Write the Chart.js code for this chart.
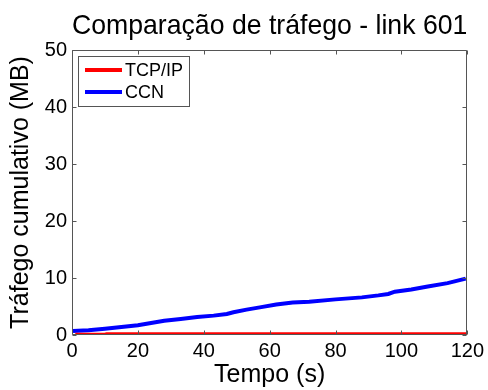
<!DOCTYPE html>
<html>
<head>
<meta charset="utf-8">
<script src="https://cdn.jsdelivr.net/npm/chart.js@4/dist/chart.umd.min.js"></script>
<style>
  html, body { margin: 0; padding: 0; background: #fff; }
  #wrap { width: 488px; height: 390px; }
</style>
</head>
<body>
<div id="wrap"><canvas id="c"></canvas></div>
<script>
// Cumulative traffic on link 601 (MB) against time (s)
const tcpTime    = [1, 10, 10.5, 120];
const tcpTraffic = [0.05, 0.05, 0.12, 0.12];

const ccnTime    = [0.3, 5, 10, 15, 20, 24, 28, 33, 38, 43, 47, 49, 53, 57, 62, 67, 72, 80, 88, 93, 96, 98, 103, 108, 114, 119.5];
const ccnTraffic = [0.7, 0.85, 1.1, 1.4, 1.7, 2.1, 2.5, 2.8, 3.15, 3.4, 3.7, 4.0, 4.45, 4.85, 5.35, 5.7, 5.85, 6.25, 6.6, 6.95, 7.2, 7.6, 8.0, 8.5, 9.1, 9.9];

const xTicks = [0, 20, 40, 60, 80, 100, 120];
const yTicks = [0, 10, 20, 30, 40, 50];

const FONT = "'Liberation Sans', Arial, sans-serif";
const AXIS_COLOR = '#555';

const toPoints = (xs, ys) => xs.map((t, i) => ({ x: t, y: ys[i] }));

// Box around the axes with inward-pointing ticks on all four sides
const framePlugin = {
  id: 'frame',
  afterDatasetsDraw(chart) {
    const { ctx, chartArea: a, scales: { x, y } } = chart;
    const L = Math.round(a.left) + 0.5, R = Math.round(a.right) - 0.5;
    const T = Math.round(a.top) + 0.5, B = Math.round(a.bottom) - 0.5;
    const len = 4;
    ctx.save();
    ctx.strokeStyle = AXIS_COLOR;
    ctx.lineWidth = 1;
    ctx.beginPath();
    ctx.rect(L, T, R - L, B - T);
    xTicks.forEach(v => {
      const px = Math.round(x.getPixelForValue(v)) + 0.5;
      ctx.moveTo(px, B); ctx.lineTo(px, B - len);
      ctx.moveTo(px, T); ctx.lineTo(px, T + len);
    });
    yTicks.forEach(v => {
      const py = Math.round(y.getPixelForValue(v)) + 0.5;
      ctx.moveTo(L, py); ctx.lineTo(L + len, py);
      ctx.moveTo(R, py); ctx.lineTo(R - len, py);
    });
    ctx.stroke();
    ctx.restore();
  }
};

// Legend box in the upper-left corner of the plot
const insetLegend = {
  id: 'insetLegend',
  afterDraw(chart) {
    const { ctx, chartArea: a } = chart;
    const x0 = a.left + 6, y0 = a.top + 6, w = 111, h = 50;
    ctx.save();
    ctx.fillStyle = '#fff';
    ctx.fillRect(x0, y0, w, h);
    ctx.strokeStyle = AXIS_COLOR;
    ctx.lineWidth = 1;
    ctx.strokeRect(x0 + 0.5, y0 + 0.5, w, h);
    ctx.font = `18px ${FONT}`;
    ctx.textBaseline = 'middle';
    chart.data.datasets.forEach((ds, i) => {
      const cy = y0 + 14 + i * 22;
      ctx.strokeStyle = ds.borderColor;
      ctx.lineWidth = 4;
      ctx.beginPath();
      ctx.moveTo(x0 + 7, cy); ctx.lineTo(x0 + 44, cy);
      ctx.stroke();
      ctx.fillStyle = '#000';
      ctx.fillText(ds.label, x0 + 47, cy + 1);
    });
    ctx.restore();
  }
};

new Chart(document.getElementById('c'), {
  type: 'line',
  data: {
    datasets: [
      { label: 'TCP/IP', data: toPoints(tcpTime, tcpTraffic), borderColor: '#ff0000', borderWidth: 4, pointRadius: 0, clip: 0, tension: 0 },
      { label: 'CCN',    data: toPoints(ccnTime, ccnTraffic), borderColor: '#0000ff', borderWidth: 4, pointRadius: 0, clip: 0, tension: 0 }
    ]
  },
  options: {
    responsive: true,
    maintainAspectRatio: false,
    animation: false,
    devicePixelRatio: 1,
    layout: { padding: { left: 0, right: 19, top: 0, bottom: 0 } },
    plugins: {
      legend: { display: false },
      tooltip: { enabled: false },
      title: {
        display: true,
        fullSize: false,
        text: 'Comparação de tráfego - link 601',
        color: '#000',
        font: { family: FONT, size: 28, weight: 'normal' },
        padding: { top: 9, bottom: 7.4 }
      }
    },
    scales: {
      x: {
        type: 'linear', min: 0, max: 120,
        afterBuildTicks: s => { s.ticks = xTicks.map(v => ({ value: v })); },
        afterFit: s => { s.height = 55; },
        grid: { display: false, drawTicks: false },
        border: { display: false },
        ticks: { color: '#000', font: { family: FONT, size: 20 }, padding: 4, maxRotation: 0 },
        title: { display: true, text: 'Tempo (s)', color: '#000', font: { family: FONT, size: 25 }, padding: { top: 0, bottom: 0 } }
      },
      y: {
        type: 'linear', min: 0, max: 50,
        afterBuildTicks: s => { s.ticks = yTicks.map(v => ({ value: v })); },
        afterFit: s => { s.width = 72; },
        grid: { display: false, drawTicks: false },
        border: { display: false },
        ticks: { color: '#000', font: { family: FONT, size: 20 }, padding: 5 },
        title: { display: true, text: 'Tráfego cumulativo (MB)', color: '#000', font: { family: FONT, size: 25 }, padding: { top: 6, bottom: 0 } }
      }
    }
  },
  plugins: [framePlugin, insetLegend]
});
</script>
</body>
</html>
